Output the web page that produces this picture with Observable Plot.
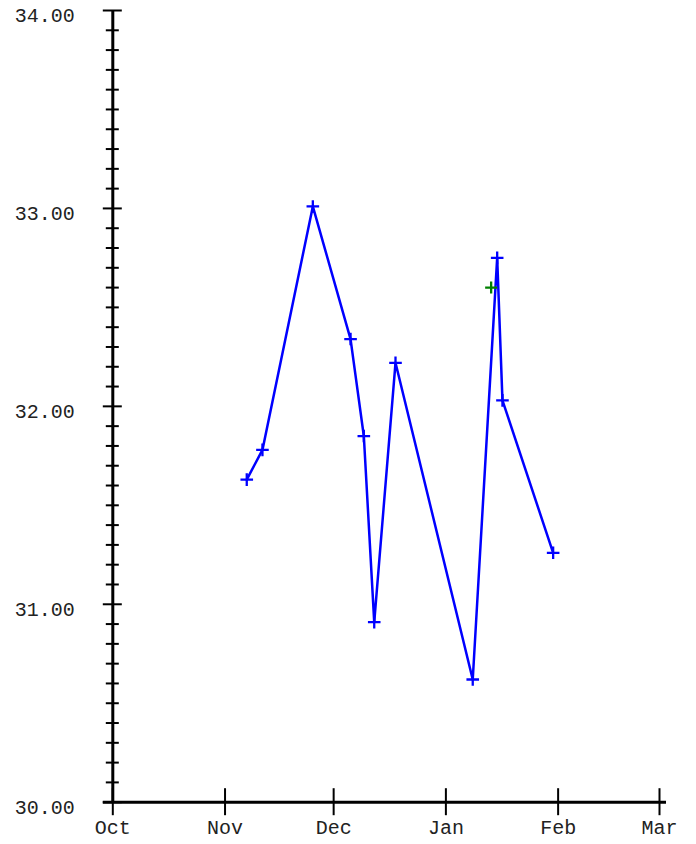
<!DOCTYPE html>
<html>
<head>
<meta charset="utf-8">
<script src="https://cdn.jsdelivr.net/npm/d3@7"></script>
<script src="https://cdn.jsdelivr.net/npm/@observablehq/plot@0.6"></script>
<style>
  html, body { margin: 0; padding: 0; background: #fff; }
</style>
</head>
<body>
<div id="chart"></div>
<script>
// ---- data ----
const dates = [
  "2010-11-07T00:00Z", "2010-11-11T08:00Z", "2010-11-25T06:00Z",
  "2010-12-05T16:00Z", "2010-12-09T08:00Z", "2010-12-12T05:00Z",
  "2010-12-18T02:00Z", "2011-01-08T10:00Z", "2011-01-15T04:00Z",
  "2011-01-16T15:00Z", "2011-01-30T15:00Z"
];
const values = [31.63, 31.78, 33.01, 32.34, 31.85, 30.91, 32.22, 30.62, 32.75, 32.03, 31.26];

const extraDates = ["2011-01-13T12:00Z"];
const extraValues = [32.60];

const xDomain = ["2010-10-01T00:00Z", "2011-03-01T00:00Z"];
const monthTicks = ["2010-10-01T00:00Z", "2010-11-01T00:00Z", "2010-12-01T00:00Z",
                    "2011-01-01T00:00Z", "2011-02-01T00:00Z", "2011-03-01T00:00Z"];
const monthLabels = ["Oct", "Nov", "Dec", "Jan", "Feb", "Mar"];

const yDomain = [30, 34];
const yMajor = [30, 31, 32, 33, 34];
const yLabels = ["30.00", "31.00", "32.00", "33.00", "34.00"];
const yMinor = d3.range(301, 340).filter(v => v % 10 !== 0).map(v => v / 10);

// ---- build tables ----
const points = dates.map((d, i) => ({date: new Date(d), value: values[i]}));
const extra = extraDates.map((d, i) => ({date: new Date(d), value: extraValues[i]}));
const monthDates = monthTicks.map(d => new Date(d));
const x0 = new Date(xDomain[0]);

// custom plus symbol: r = arm length
const plusSymbol = {
  draw(ctx, size) {
    const r = Math.sqrt(size / Math.PI);
    ctx.moveTo(-r, 0); ctx.lineTo(r, 0);
    ctx.moveTo(0, -r); ctx.lineTo(0, r);
  }
};

const font = {fontFamily: "'Liberation Mono', 'DejaVu Sans Mono', monospace", fontSize: 20};

const chart = Plot.plot({
  width: 696,
  height: 844,
  marginLeft: 112.3,
  marginRight: 37,
  marginTop: 10,
  marginBottom: 42.3,
  style: {background: "#fff", color: "#000", fontFamily: font.fontFamily, fontSize: "20px"},
  x: {type: "utc", domain: xDomain.map(d => new Date(d)), axis: null},
  y: {domain: yDomain, axis: null},
  marks: [
    // y minor ticks (both sides of the axis)
    Plot.axisY(yMinor, {anchor: "left", tickSize: 13, dx: 6.5, fill: "none", stroke: "#000", strokeWidth: 2, label: null}),
    // y major ticks
    Plot.axisY(yMajor, {anchor: "left", tickSize: 19, dx: 9.5, fill: "none", stroke: "#000", strokeWidth: 2, label: null}),
    // y labels
    Plot.axisY(yMajor, {anchor: "left", tickSize: 0, tickPadding: 38, dy: 5, fill: "#222", fontSize: 20,
      tickFormat: d => yLabels[yMajor.indexOf(d)], label: null}),
    // x ticks (crossing the baseline)
    Plot.axisX(monthDates, {anchor: "bottom", tickSize: 27, dy: -13.5, fill: "none", stroke: "#000", strokeWidth: 2, label: null}),
    // x labels
    Plot.axisX(monthDates, {anchor: "bottom", tickSize: 0, tickPadding: 18, fill: "#222", fontSize: 20,
      tickFormat: d => monthLabels[monthDates.findIndex(t => +t === +d)], label: null}),
    // axis lines
    Plot.ruleX([x0], {stroke: "#000", strokeWidth: 3}),
    Plot.ruleY([yDomain[0]], {stroke: "#000", strokeWidth: 3, insetLeft: -9.5, insetRight: -7}),
    // data
    Plot.line(points, {x: "date", y: "value", stroke: "#0000ff", strokeWidth: 2.5}),
    Plot.dot(points, {x: "date", y: "value", symbol: plusSymbol, r: 6.3, stroke: "#0000ff", strokeWidth: 2.3}),
    Plot.dot(extra, {x: "date", y: "value", symbol: plusSymbol, r: 6, stroke: "#008000", strokeWidth: 2.3})
  ]
});

document.getElementById("chart").appendChild(chart);
</script>
</body>
</html>
